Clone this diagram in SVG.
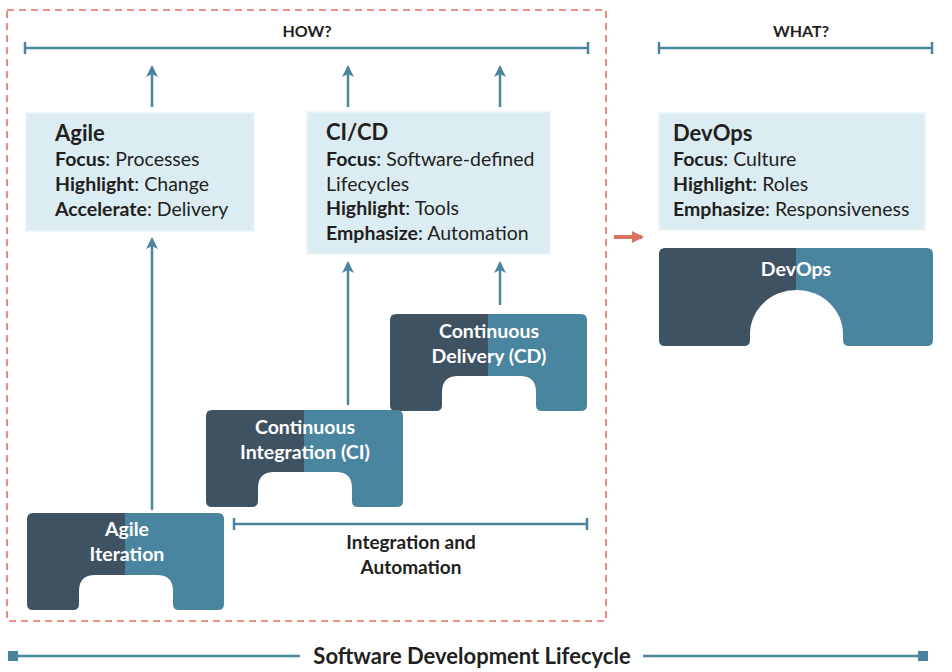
<svg xmlns="http://www.w3.org/2000/svg" width="952" height="672" viewBox="0 0 952 672">
<style>
.t{font-family:Lato,"Open Sans","Liberation Sans",sans-serif;fill:#231f20}
.h{font-size:16px;font-weight:700}
.title{font-size:22px;font-weight:700}
.body{font-size:19.5px}
.b{font-weight:700}
.lbl{font-family:Lato,"Open Sans","Liberation Sans",sans-serif;font-size:19.5px;font-weight:700;fill:#ffffff;text-anchor:middle}
.box{fill:#dbedf3;stroke:#eaf5f8;stroke-width:1.5}
.ln{stroke:#4a85a0;stroke-width:2.5;fill:none}
.arr{stroke:#4a85a0;stroke-width:2.5;fill:none;marker-end:url(#ah)}
</style>
<defs>
<linearGradient id="split" x1="0" y1="0" x2="1" y2="0">
<stop offset="0" stop-color="#3e5262"/><stop offset="0.5" stop-color="#3e5262"/>
<stop offset="0.5" stop-color="#4a85a0"/><stop offset="1" stop-color="#4a85a0"/>
</linearGradient>
<path id="blk" d="M6,0 H191 Q197,0 197,6 V91 Q197,97 191,97 H152 Q146,97 146,91 V78 Q146,62 130,62 H68 Q52,62 52,78 V91 Q52,97 46,97 H6 Q0,97 0,91 V6 Q0,0 6,0 Z"/>
<marker id="ah" viewBox="0 0 12 12" refX="10" refY="6" markerWidth="12" markerHeight="12" markerUnits="userSpaceOnUse" orient="auto">
<path d="M0,0 L12,6 L0,12 L3,6 Z" fill="#4a85a0"/>
</marker>
<marker id="rh" viewBox="0 0 12 12" refX="10" refY="6" markerWidth="12" markerHeight="12" markerUnits="userSpaceOnUse" orient="auto">
<path d="M0,0 L12,6 L0,12 Z" fill="#d9735f"/>
</marker>
</defs>

<rect x="7" y="10" width="599" height="611" fill="none" stroke="#e56f5f" stroke-width="1.6" stroke-dasharray="7,5"/>

<g id="how">
<text class="t h" x="307" y="37" text-anchor="middle">HOW?</text>
<path class="ln" d="M25,48 H588 M25,42 V54 M588,42 V54"/>
</g>
<g id="what">
<text class="t h" x="801" y="37" text-anchor="middle">WHAT?</text>
<path class="ln" d="M659,48 H932 M659,42 V54 M932,42 V54"/>
</g>

<g id="agile">
<rect class="box" x="26" y="113" width="228" height="118"/>
<text class="t title" x="55" y="141">Agile</text>
<text class="t body" x="55" y="166"><tspan class="b">Focus</tspan>: Processes</text>
<text class="t body" x="55" y="191"><tspan class="b">Highlight</tspan>: Change</text>
<text class="t body" x="55" y="216"><tspan class="b">Accelerate</tspan>: Delivery</text>
</g>

<g id="cicd">
<rect class="box" x="307" y="112" width="243" height="142"/>
<text class="t title" x="326" y="140">CI/CD</text>
<text class="t body" x="326" y="166"><tspan class="b">Focus</tspan>: Software-defined</text>
<text class="t body" x="326" y="191">Lifecycles</text>
<text class="t body" x="326" y="215"><tspan class="b">Highlight</tspan>: Tools</text>
<text class="t body" x="326" y="240"><tspan class="b">Emphasize</tspan>: Automation</text>
</g>

<g id="devops">
<rect class="box" x="659" y="113" width="266" height="117"/>
<text class="t title" x="673" y="141">DevOps</text>
<text class="t body" x="673" y="166"><tspan class="b">Focus</tspan>: Culture</text>
<text class="t body" x="673" y="191"><tspan class="b">Highlight</tspan>: Roles</text>
<text class="t body" x="673" y="216"><tspan class="b">Emphasize</tspan>: Responsiveness</text>
</g>

<g id="cd-block">
<use href="#blk" transform="translate(390,314)" fill="url(#split)"/>
<text class="lbl" x="489" y="338">Continuous</text>
<text class="lbl" x="489" y="363">Delivery (CD)</text>
</g>

<g id="ci-block">
<use href="#blk" transform="translate(206,410)" fill="url(#split)"/>
<text class="lbl" x="305" y="434">Continuous</text>
<text class="lbl" x="305" y="459">Integration (CI)</text>
</g>

<g id="agile-block">
<use href="#blk" transform="translate(27,513)" fill="url(#split)"/>
<text class="lbl" x="127" y="536">Agile</text>
<text class="lbl" x="127" y="561">Iteration</text>
</g>

<g id="devops-block">
<path transform="translate(659,248)" fill="url(#split)" d="M6,0 H268 Q274,0 274,6 V92 Q274,98 268,98 H190 Q184,98 184,92 V86 A46.5,44 0 0 0 91,86 V92 Q91,98 85,98 H6 Q0,98 0,92 V6 Q0,0 6,0 Z"/>
<text class="lbl" x="796" y="276">DevOps</text>
</g>

<g id="integration">
<path class="ln" d="M234,524 H587 M234,518 V530 M587,518 V530"/>
<text class="t" x="411" y="549" text-anchor="middle" font-size="19" font-weight="700">Integration and</text>
<text class="t" x="411" y="574" text-anchor="middle" font-size="19" font-weight="700">Automation</text>
</g>

<g id="sdl">
<path class="ln" d="M13,656 H300 M643,656 H922"/>
<rect x="8" y="651" width="10" height="10" fill="#4a85a0"/>
<rect x="918" y="651" width="10" height="10" fill="#4a85a0"/>
<text class="t" x="472" y="664" text-anchor="middle" font-size="22" font-weight="700">Software Development Lifecycle</text>
</g>

<g id="connectors">
<path class="arr" d="M152,107 V67"/>
<path class="arr" d="M348,107 V67"/>
<path class="arr" d="M500,107 V67"/>
<path class="arr" d="M152,510 V239"/>
<path class="arr" d="M348,405 V263"/>
<path class="arr" d="M500,305 V263"/>
<path d="M614,237 H642" stroke="#d9735f" stroke-width="4" fill="none" marker-end="url(#rh)"/>
</g>
</svg>
